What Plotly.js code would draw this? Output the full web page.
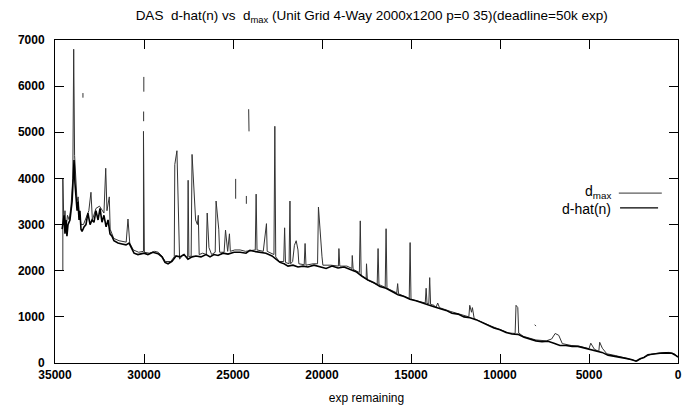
<!DOCTYPE html>
<html>
<head>
<meta charset="utf-8">
<script src="https://cdn.plot.ly/plotly-3.0.1.min.js"></script>
<style>html,body{margin:0;padding:0;background:#fff;}#chart{width:685px;height:409px;}</style>
</head>
<body>
<div id="chart"></div>
<script>
// d-hat(n) series: exp remaining vs estimate
const dhatX = [34600,34490,34440,34380,34330,34270,34160,34100,34040,33990,33930,33880,33820,33760,33710,33650,33600,33540,33480,33370,33260,33150,33030,32920,32810,32700,32580,32470,32360,32250,32130,32020,31910,31800,31690,31460,31240,31010,30840,30730,30560,30340,30000,29780,29500,29210,28990,28820,28650,28430,28200,27980,27750,27530,27300,27080,26800,26510,26290,26070,25840,25560,25280,24940,24600,24270,24050,23820,23480,23150,22810,22580,22360,22130,21910,21630,21350,21070,20790,20450,20110,19770,19440,19100,18760,18430,18090,17750,17420,17080,16740,16400,16070,15730,15390,15060,14720,14380,14050,13710,13370,13030,12700,12360,12020,11680,11350,11010,10670,10340,10000,9660,9330,8990,8650,8310,7980,7640,7300,6970,6630,6290,5950,5620,5280,4940,4610,4270,3930,3600,3260,2920,2580,2360,2130,1910,1690,1350,1010,670,340,110,0];
const dhatY = [2900,3200,2800,3100,2750,3000,3100,3300,3500,3900,4400,3900,3600,3300,3500,3100,3300,2900,2850,2950,3000,3250,3000,3100,3050,3300,3100,3350,3050,3200,2950,3100,2800,2750,2650,2600,2580,2560,2600,2500,2380,2350,2380,2350,2400,2370,2300,2180,2150,2200,2320,2300,2350,2250,2300,2320,2300,2350,2300,2350,2330,2380,2360,2400,2400,2380,2440,2420,2400,2380,2320,2250,2180,2150,2100,2120,2080,2100,2080,2120,2080,2050,2100,2060,2080,2030,1980,1880,1800,1740,1660,1620,1550,1480,1440,1380,1350,1300,1260,1220,1180,1140,1080,1060,1000,980,940,880,820,760,720,660,630,620,560,520,480,460,470,430,380,380,360,360,330,300,260,230,170,150,120,100,70,40,90,120,180,200,210,220,210,160,130];

// d_max series (null = gap in the plotted line)
const dmaxX = [34560,34560,34500,34440,34380,34300,34200,34100,34000,33950,33900,33820,33760,33700,33650,33540,33400,33100,32980,32900,32700,32500,32250,32150,32080,31950,31900,31700,31400,31000,30900,30800,30600,30300,30030,30030,29980,29700,29400,29200,29000,28800,28500,28300,28270,28150,28000,27800,27550,27520,27480,27350,27300,27100,27000,26950,26900,26700,26500,26450,26350,26200,26000,25950,25800,25750,25500,25420,25300,25200,25150,24900,24600,24300,23750,23700,23650,23300,23120,23080,22700,22650,22600,22400,22150,22100,22050,21850,21800,21760,21650,21550,21450,21350,21300,21000,20950,20900,20500,20250,20200,20000,19950,19500,19080,19050,19000,18600,18320,18300,18250,17900,17850,17800,17520,17500,17450,16900,16850,16800,16450,16400,16350,15800,15750,15700,15100,15050,15000,14200,14150,14100,14000,13950,13900,13700,13600,13500,13400,12800,12000,11750,11700,11600,11550,11450,10500,9500,9150,9100,9000,8950,8700,8000,7400,7100,6900,6700,6500,6000,5500,5000,4900,4700,4450,4400,4250,4000,3500,3000,2500,2300,2000,1500,1000,500,200,0,
  null,33430,33430,null,30020,30020,null,30010,30010,null,24120,24100,null,24850,24850,null,24250,24250,null,8050,7980];
const dmaxY = [2000,4000,3000,3300,2900,3200,3100,3400,4000,6800,4500,3800,3500,3600,3300,3000,3000,3300,3700,3100,3350,3400,3250,4220,3300,3600,2900,2700,2650,2620,3120,2600,2450,2400,2420,5020,2400,2380,2420,2400,2320,2200,2200,2300,4300,4600,2250,2350,2280,3960,2300,2320,4520,3100,3000,3200,2350,2380,2350,3250,2500,2350,2400,3510,2900,2400,2400,2880,2420,2800,2420,2450,2450,2420,2450,3660,2450,2420,3020,2420,2350,5130,2300,2200,2200,2930,2180,2150,3510,2150,2200,2550,2650,2450,2150,2130,2590,2120,2150,2150,3380,2300,2120,2120,2100,2480,2100,2100,2050,2330,2030,1960,3080,1900,1820,2150,1800,1700,2480,1700,1640,2910,1620,1520,1720,1500,1400,2610,1380,1300,1620,1290,1280,1850,1270,1250,1200,1300,1200,1120,1020,1000,1250,1100,1200,960,800,650,640,1250,1200,650,580,500,480,520,640,600,420,380,360,310,430,300,250,450,320,200,160,110,70,40,110,190,220,230,200,130,
  null,5850,5750,null,5240,5450,null,5880,6200,null,5500,5020,null,3990,3560,null,3620,3450,null,830,800];

const xTicks = [35000,30000,25000,20000,15000,10000,5000,0];
const yTicks = [0,1000,2000,3000,4000,5000,6000,7000];
const seriesNames = ['d<sub>max</sub>', 'd-hat(n)'];

const font = 'Liberation Sans, Arial, sans-serif';
const traces = [
  {x: dmaxX, y: dmaxY, type: 'scatter', mode: 'lines', name: seriesNames[0],
   line: {color: '#333', width: 1}, connectgaps: false},
  {x: dhatX, y: dhatY, type: 'scatter', mode: 'lines', name: seriesNames[1],
   line: {color: '#000', width: 1.6}}
];
const layout = {
  width: 685, height: 409,
  margin: {l: 55, r: 7, t: 40, b: 46},
  paper_bgcolor: '#fff', plot_bgcolor: '#fff',
  showlegend: false,
  title: {text: 'DAS  d-hat(n) vs  d<sub>max</sub> (Unit Grid 4-Way 2000x1200 p=0 35)(deadline=50k exp)',
          font: {family: font, size: 13.5, color: '#000'}, x: 0.198, xanchor: 'left', y: 0.962, yanchor: 'middle'},
  xaxis: {range: [35000, 0], tickvals: xTicks, ticktext: xTicks.map(String),
          ticks: 'inside', ticklen: 9, tickcolor: '#000', mirror: 'allticks',
          showline: true, linecolor: '#000', linewidth: 1, showgrid: false, zeroline: false,
          ticklabelstandoff: 1,
          tickfont: {family: font, size: 12, color: '#000', weight: 'bold'},
          title: {text: 'exp remaining', font: {family: font, size: 12, color: '#000'}, standoff: 12}},
  yaxis: {range: [0, 7000], tickvals: yTicks, ticktext: yTicks.map(String),
          ticks: 'inside', ticklen: 9, tickcolor: '#000', mirror: 'allticks',
          showline: true, linecolor: '#000', linewidth: 1, showgrid: false, zeroline: false,
          ticklabelstandoff: 7,
          tickfont: {family: font, size: 12, color: '#000', weight: 'bold'}},
  annotations: [
    {xref: 'paper', yref: 'paper', x: 0.895, y: 0.528, xanchor: 'right', yanchor: 'middle', showarrow: false,
     text: seriesNames[0], font: {family: font, size: 14, color: '#000'}},
    {xref: 'paper', yref: 'paper', x: 0.895, y: 0.478, xanchor: 'right', yanchor: 'middle', showarrow: false,
     text: seriesNames[1], font: {family: font, size: 14, color: '#000'}}
  ],
  shapes: [
    {type: 'line', xref: 'paper', yref: 'paper', x0: 0.905, x1: 0.974, y0: 0.526, y1: 0.526, line: {color: '#333', width: 1}},
    {type: 'line', xref: 'paper', yref: 'paper', x0: 0.907, x1: 0.968, y0: 0.480, y1: 0.480, line: {color: '#000', width: 1.3}}
  ]
};
Plotly.newPlot('chart', traces, layout, {displayModeBar: false, staticPlot: true});
</script>
</body>
</html>
